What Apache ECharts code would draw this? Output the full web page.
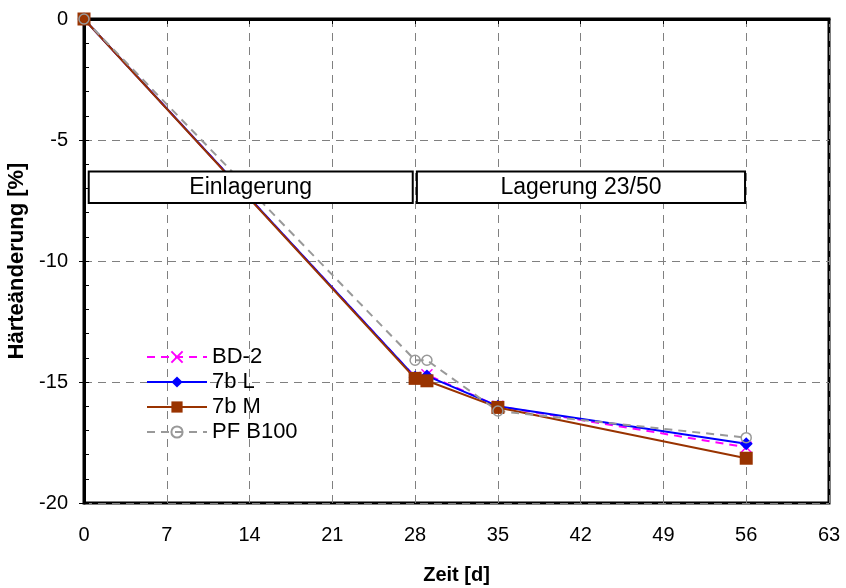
<!DOCTYPE html>
<html>
<head>
<meta charset="utf-8">
<script src="https://cdn.jsdelivr.net/npm/echarts@6/dist/echarts.min.js"></script>
<style>
  html, body { margin: 0; padding: 0; background: #fff; }
  #main { width: 846px; height: 588px; }
</style>
</head>
<body>
<div id="main"></div>
<script>
// Zeitpunkte [d]
var days = [0, 28, 29, 35, 56];
// Härteänderung [%]
var bd2    = [0, -14.8, -14.7, -16.0, -17.7];
var l7b    = [0, -14.8, -14.75, -16.0, -17.55];
var m7b    = [0, -14.85, -14.95, -16.05, -18.15];
var pfb100 = [0, -14.1, -14.1, -16.2, -17.3];

// Lagerungsphasen (Kästen)
var stageNames  = ['Einlagerung', 'Lagerung 23/50'];
var stageStart  = [0.4, 28.15];
var stageEnd    = [27.8, 55.9];
var stageTop    = -6.3;
var stageBottom = -7.6;

function pairs(ys) {
    return days.map(function (d, i) { return [d, ys[i]]; });
}

var font = '"Liberation Sans", Arial, sans-serif';
var myChart = echarts.init(document.getElementById('main'));

var areas = stageNames.map(function (n, i) {
    return [
        { name: n, coord: [stageStart[i], stageTop] },
        { coord: [stageEnd[i], stageBottom] }
    ];
});

var option = {
    animation: false,
    backgroundColor: '#fff',
    textStyle: { fontFamily: font },
    grid: {
        left: 84, right: 17, top: 19, bottom: 85,
        outerBoundsMode: 'none', containLabel: false,
        show: true, borderColor: '#000', borderWidth: 3, backgroundColor: 'transparent'
    },
    legend: {
        orient: 'vertical',
        left: 141, top: 341,
        itemWidth: 60, itemHeight: 14, itemGap: 3,
        textStyle: { fontFamily: font, fontSize: 22, color: '#000' },
        data: ['BD-2', '7b L', '7b M', 'PF B100']
    },
    xAxis: {
        type: 'value', min: 0, max: 63, interval: 7,
        name: 'Zeit [d]', nameLocation: 'middle', nameGap: 62,
        nameTextStyle: { fontFamily: font, fontSize: 20, fontWeight: 'bold', color: '#000' },
        axisLine: { show: true, lineStyle: { color: '#000', width: 3 } },
        axisTick: { show: true, length: 5, lineStyle: { color: '#000', width: 1 } },
        axisLabel: { margin: 22, fontFamily: font, fontSize: 20, color: '#000' },
        splitLine: { show: true, lineStyle: { color: '#808080', type: [8, 6], width: 1 } }
    },
    yAxis: [{
        type: 'value', min: -20, max: 0, interval: 5,
        name: 'Härteänderung [%]', nameLocation: 'middle', nameGap: 56,
        nameTextStyle: { fontFamily: font, fontSize: 22, fontWeight: 'bold', color: '#000' },
        axisLine: { show: true, lineStyle: { color: '#000', width: 3 } },
        axisTick: { show: true, length: 5, lineStyle: { color: '#000', width: 1 } },
        axisLabel: { margin: 16, fontFamily: font, fontSize: 20, color: '#000' },
        splitLine: { show: true, lineStyle: { color: '#808080', type: [8, 6], width: 1 } }
    }, {
        // Hilfsachse nur für die inneren Teilstriche
        type: 'value', min: -20, max: 0, interval: 1, position: 'left',
        axisLine: { show: false },
        axisTick: { show: true, inside: true, length: 5, lineStyle: { color: '#000', width: 1 } },
        axisLabel: { show: false },
        splitLine: { show: false }
    }],
    series: [
        {
            name: 'BD-2', type: 'line', data: pairs(bd2), clip: false,
            symbol: 'path://M0,0L10,10M10,0L0,10', symbolSize: 11,
            itemStyle: { color: '#ff00ff', borderColor: '#ff00ff', borderWidth: 1.5 },
            lineStyle: { color: '#ff00ff', width: 2, type: [8, 6] }
        },
        {
            name: '7b L', type: 'line', data: pairs(l7b), clip: false,
            symbol: 'diamond', symbolSize: 13,
            itemStyle: { color: '#0000ff' },
            lineStyle: { color: '#0000ff', width: 2 }
        },
        {
            name: '7b M', type: 'line', data: pairs(m7b), clip: false,
            symbol: 'rect', symbolSize: 13,
            itemStyle: { color: '#993300' },
            lineStyle: { color: '#993300', width: 2 }
        },
        {
            name: 'PF B100', type: 'line', data: pairs(pfb100), clip: false,
            symbol: 'circle', symbolSize: 10,
            itemStyle: { color: 'transparent', borderColor: '#999999', borderWidth: 1.5 },
            lineStyle: { color: '#999999', width: 2, type: [8, 6] }
        },
        {
            name: 'phasen', type: 'line', data: [],
            markArea: {
                z: 10, silent: true,
                itemStyle: { color: '#fff', borderColor: '#000', borderWidth: 2 },
                label: { show: true, position: 'inside', fontFamily: font, fontSize: 23, color: '#000' },
                data: areas
            }
        }
    ]
};
myChart.setOption(option);
</script>
</body>
</html>
